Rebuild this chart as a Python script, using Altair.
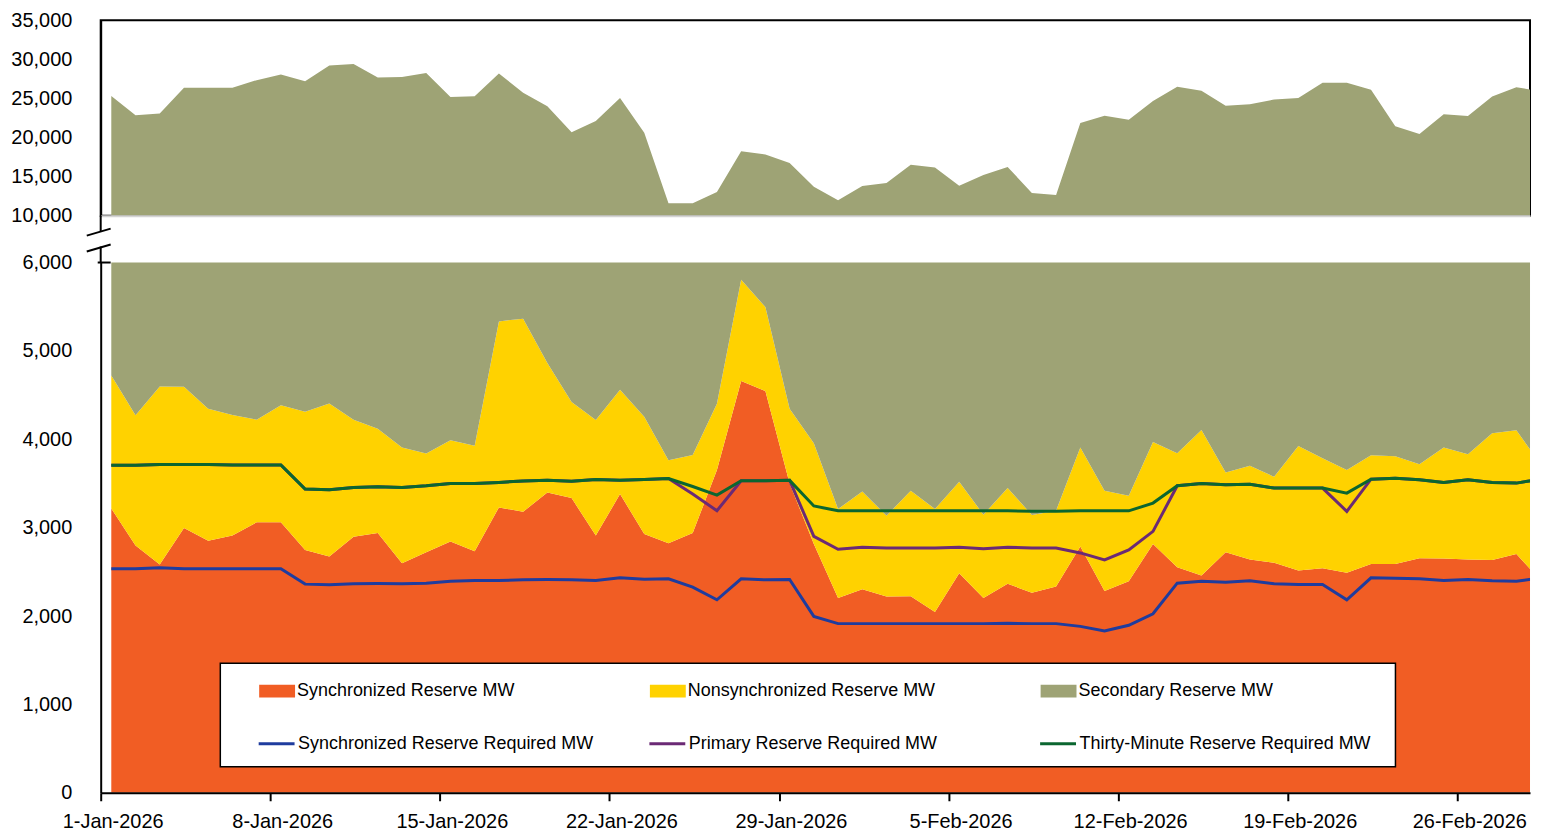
import altair as alt
import pandas as pd

FONT = "Liberation Sans, Arial, sans-serif"

# ---------------- data ----------------
dates = pd.date_range("2026-01-01 10:30", periods=60, freq="D")

sync_mw = [3218, 2797, 2583, 2997, 2853, 2910, 3060, 3060, 2748, 2673,
           2898, 2940, 2597, 2722, 2842, 2733, 3229, 3180, 3398, 3335,
           2910, 3380, 2929, 2823, 2940, 3651, 4658, 4545, 3500, 2816,
           2203, 2304, 2222, 2225, 2045, 2485, 2203, 2365, 2263, 2334,
           2786, 2282, 2394, 2816, 2552, 2459, 2722, 2639, 2602, 2515,
           2541, 2489, 2590, 2590, 2654, 2650, 2640, 2635, 2703, 2401]

nonsync_mw = [1504, 1474, 2015, 1597, 1493, 1364, 1162, 1324, 1564, 1733,
              1324, 1180, 1309, 1116, 1147, 1195, 2105, 2185, 1466, 1086,
              1308, 1180, 1326, 940, 883, 751, 1147, 951, 846, 1139,
              1008, 1105, 913, 1192, 1166, 1034, 944, 1083, 880, 858,
              1120, 1135, 967, 1154, 1290, 1646, 902, 1060, 973, 1410,
              1245, 1162, 1230, 1219, 1064, 1256, 1191, 1433, 1399, 1317]

secondary_mw = [20600, 18569, 18492, 21776, 22024, 22096, 23118, 23666, 22898, 24824,
                25178, 23560, 23854, 24432, 21201, 21352, 22846, 20375, 19146, 16269,
                17902, 20500, 16355, 7837, 7777, 8628, 12435, 12334, 12384, 9745,
                8769, 10381, 11035, 13113, 12939, 10311, 12073, 12782, 9757, 9458,
                17964, 19373, 18929, 20720, 22658, 21895, 20436, 20571, 21285, 21135,
                23214, 23349, 22300, 17641, 16722, 19064, 18919, 21172, 22348, 22172]

sync_req = [2534, 2534, 2545, 2534, 2534, 2534, 2534, 2534, 2361, 2353,
            2365, 2368, 2365, 2372, 2394, 2402, 2402, 2410, 2413, 2410,
            2402, 2432, 2417, 2421, 2327, 2184, 2421, 2410, 2413, 1996,
            1914, 1914, 1914, 1914, 1914, 1914, 1914, 1918, 1914, 1914,
            1883, 1830, 1895, 2026, 2372, 2394, 2383, 2398, 2365, 2357,
            2357, 2184, 2432, 2428, 2421, 2402, 2413, 2398, 2394, 2430]

primary_req = [3705, 3705, 3715, 3715, 3715, 3710, 3710, 3710, 3436, 3430,
               3455, 3462, 3455, 3474, 3500, 3500, 3512, 3528, 3535, 3525,
               3545, 3535, 3545, 3555, 3380, 3192, 3530, 3530, 3535, 2902,
               2755, 2778, 2770, 2770, 2770, 2778, 2760, 2778, 2770, 2770,
               2714, 2636, 2748, 2958, 3474, 3500, 3485, 3490, 3448, 3448,
               3448, 3184, 3549, 3560, 3541, 3511, 3541, 3511, 3504, 3550]

thirty_req = [3705, 3705, 3715, 3715, 3715, 3710, 3710, 3710, 3436, 3430,
              3455, 3462, 3455, 3474, 3500, 3500, 3512, 3528, 3535, 3525,
              3545, 3535, 3545, 3555, 3466, 3369, 3530, 3530, 3535, 3245,
              3192, 3190, 3190, 3190, 3190, 3190, 3190, 3190, 3185, 3185,
              3190, 3190, 3190, 3278, 3474, 3500, 3485, 3490, 3448, 3448,
              3448, 3391, 3549, 3560, 3541, 3511, 3541, 3511, 3504, 3550]

area_names = ["Synchronized Reserve MW", "Nonsynchronized Reserve MW", "Secondary Reserve MW"]
line_names = ["Synchronized Reserve Required MW", "Primary Reserve Required MW",
              "Thirty-Minute Reserve Required MW"]
area_colors = ["#F15D24", "#FFD200", "#9EA375"]
line_colors = ["#1F3C9E", "#6B2A75", "#0B6630"]

top_ticks = [10000, 15000, 20000, 25000, 30000, 35000]
bottom_ticks = [0, 1000, 2000, 3000, 4000, 5000, 6000]
tick_days = [(1, 1), (1, 8), (1, 15), (1, 22), (1, 29), (2, 5), (2, 12), (2, 19), (2, 26)]

# ---------------- tables ----------------
arows = []
for i, d in enumerate(dates):
    for j, vals in enumerate([sync_mw, nonsync_mw, secondary_mw]):
        arows.append({"date": d, "series": area_names[j], "value": vals[i], "ord": j})
df_area = pd.DataFrame(arows)

lrows = []
for j, vals in enumerate([sync_req, primary_req, thirty_req]):
    for i, d in enumerate(dates):
        lrows.append({"date": d, "series": line_names[j], "value": vals[i]})
df_line = pd.DataFrame(lrows)

one = pd.DataFrame({"k": [0]})

W = 1434
x_scale = alt.Scale(domain=[alt.DateTime(year=2026, month=1, date=1),
                            alt.DateTime(year=2026, month=3, date=1)])
tick_vals = [alt.DateTime(year=2026, month=m, date=d) for m, d in tick_days]

# ---------------- top panel ----------------
top = alt.Chart(df_area).mark_area(clip=True).encode(
    x=alt.X("date:T", scale=x_scale,
            axis=alt.Axis(title=None, labels=False, ticks=False, grid=False,
                          domainColor="#D4D4D4", domainWidth=2, zindex=1)),
    y=alt.Y("value:Q", stack="zero",
            scale=alt.Scale(domain=[10000, 35000], nice=False, zero=False),
            axis=alt.Axis(title=None, values=top_ticks, format=",.0f", grid=False, ticks=False,
                          domainColor="black", domainWidth=2, labelPadding=29,
                          labelFontSize=20, labelFont=FONT, labelColor="black")),
    fill=alt.Fill("series:N", scale=alt.Scale(domain=area_names, range=area_colors), legend=None),
    order=alt.Order("ord:Q"),
).properties(width=W, height=196,
             view=alt.ViewBackground(stroke="black", strokeWidth=2))

# ---------------- bottom panel ----------------
x_enc = alt.X("date:T", scale=x_scale,
              axis=alt.Axis(title=None, values=tick_vals, format="%-d-%b-%Y", grid=False,
                            tickSize=8, tickWidth=2, tickColor="black",
                            domainColor="black", domainWidth=2, labelPadding=11,
                            labelOffset=12,
                            labelFontSize=20, labelFont=FONT, labelColor="black",
                            labelFlush=False, labelOverlap=False, zindex=1))
y_scale = alt.Scale(domain=[0, 6000], nice=False)
y_axis = alt.Axis(title=None, values=bottom_ticks, format=",.0f", grid=False, ticks=False,
                  domainColor="black", domainWidth=2, labelPadding=29,
                  labelFontSize=20, labelFont=FONT, labelColor="black", zindex=1)

areas = alt.Chart(df_area).mark_area(clip=True).encode(
    x=x_enc,
    y=alt.Y("value:Q", stack="zero", scale=y_scale, axis=y_axis),
    fill=alt.Fill("series:N", scale=alt.Scale(domain=area_names, range=area_colors),
                  legend=alt.Legend(title=None, orient="none", legendX=159, legendY=412,
                                    direction="horizontal", columns=3, columnPadding=105,
                                    gridAlign="all", symbolType="M-1,-0.36H1V0.36H-1Z",
                                    symbolSize=1296, symbolStrokeWidth=0, symbolOpacity=1,
                                    labelFontSize=18, labelFont=FONT, labelColor="black",
                                    labelOffset=2, labelLimit=500)),
    order=alt.Order("ord:Q"),
)

lines = alt.Chart(df_line).mark_line(strokeWidth=3, clip=True).encode(
    x=x_enc,
    y=alt.Y("value:Q", scale=y_scale, axis=y_axis),
    stroke=alt.Stroke("series:N", scale=alt.Scale(domain=line_names, range=line_colors),
                      legend=alt.Legend(title=None, orient="none", legendX=157, legendY=463,
                                        direction="horizontal", columns=3, columnPadding=49,
                                        gridAlign="all", symbolType="stroke",
                                        symbolSize=1296, symbolStrokeWidth=3,
                                        labelFontSize=18, labelFont=FONT, labelColor="black",
                                        labelOffset=2, labelLimit=500)),
)

box = alt.Chart(one).mark_rect(fill="white", stroke="black", strokeWidth=1.5).encode(
    x=alt.value(120), x2=alt.value(1299), y=alt.value(402), y2=alt.value(506))


def seg(x1, y1, x2, y2):
    return alt.Chart(one).mark_rule(color="black", strokeWidth=2).encode(
        x=alt.value(x1), y=alt.value(y1), x2=alt.value(x2), y2=alt.value(y2))


breaks = [seg(0, -47, 0, -31), seg(-14, -27, 10, -34), seg(-14, -11, 10, -18),
          seg(0, -16, 0, 0), seg(-3, 0, 10, 0)]

bottom = alt.layer(areas, lines, box, *breaks).properties(
    width=W, height=532, view=alt.ViewBackground(stroke="transparent"))

chart = alt.vconcat(top, bottom, spacing=47, bounds="flush").resolve_scale(
    fill="independent", stroke="independent"
).properties(
    padding={"left": 1, "top": 0, "right": 2, "bottom": 0}
)

chart.save("out.html", embed_options={"renderer": "svg", "actions": False})
